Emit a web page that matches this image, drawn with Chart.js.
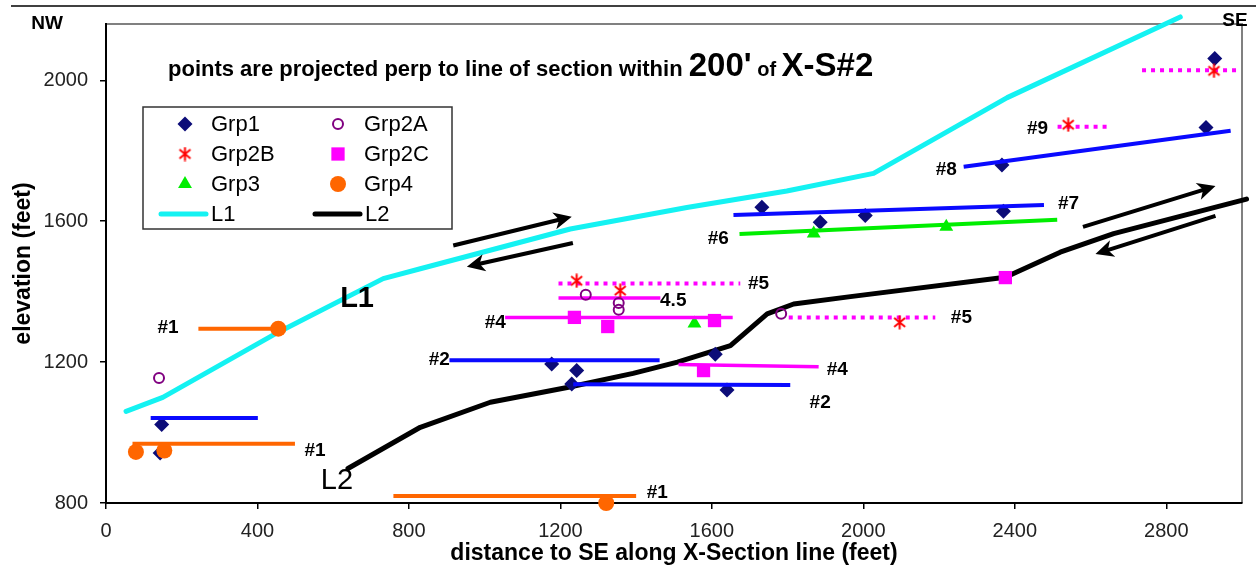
<!DOCTYPE html>
<html>
<head>
<meta charset="utf-8">
<script src="https://cdn.jsdelivr.net/npm/chart.js@4/dist/chart.umd.min.js"></script>
<style>
  html, body { margin: 0; padding: 0; background: #fff; }
  #wrap { width: 1256px; height: 571px; position: relative; }
</style>
</head>
<body>
<div id="wrap"><canvas id="grafico" width="1256" height="571"></canvas></div>
<script>
'use strict';

// ---- datos ----
var xTicks = [0, 400, 800, 1200, 1600, 2000, 2400, 2800];
var yTicks = [800, 1200, 1600, 2000];

var grp1X = [147, 143, 1732, 1886, 2005, 2370, 2366, 2905, 2928, 1177, 1243, 1230, 1609, 1640];
var grp1Y = [1023, 942, 1640, 1597, 1616, 1628, 1760, 1866, 2062, 1195, 1176, 1138, 1222, 1121];

var grp2aX = [140, 1267, 1354, 1354, 1783];
var grp2aY = [1155, 1391, 1368, 1349, 1337];

var grp2bX = [1243, 1358, 2096, 2541, 2926];
var grp2bY = [1431, 1403, 1313, 1874, 2027];

var grp2cX = [1237, 1325, 1607, 1578, 2375];
var grp2cY = [1327, 1301, 1318, 1176, 1440];

var grp3X = [1554, 1869, 2219];
var grp3Y = [1310, 1565, 1584];

var grp4X = [455, 79, 154, 1321];
var grp4Y = [1295, 945, 949, 800];

var l1X = [53, 150, 455, 732, 830, 1226, 1534, 1798, 2027, 2380, 2837];
var l1Y = [1060, 1100, 1285, 1437, 1465, 1578, 1639, 1686, 1736, 1951, 2180];

var l2X = [639, 830, 1015, 1218, 1392, 1509, 1649, 1746, 1816, 1966, 2375, 2520, 2661, 3012];
var l2Y = [898, 1015, 1086, 1128, 1168, 1200, 1247, 1337, 1365, 1386, 1441, 1512, 1565, 1663];

// tramos horizontales [x1, y1, x2, y2]
var orangeSegs = [[244, 1295, 455, 1295], [70, 968, 499, 968], [759, 820, 1400, 820]];
var blueSegs = [[118, 1041, 401, 1041], [907, 1205, 1462, 1205], [1234, 1137, 1807, 1135],
                [1657, 1618, 2477, 1646], [2265, 1755, 2970, 1857]];
var greenSegs = [[1673, 1564, 2512, 1604]];
var magentaSegs = [[1054, 1327, 1655, 1327], [1195, 1382, 1464, 1382], [1512, 1193, 1882, 1187]];
var dottedSegs = [[1195, 1423, 1675, 1423], [1803, 1327, 2190, 1327], [2513, 1868, 2654, 1868],
                  [2736, 2029, 2987, 2029]];

// flechas (desde -> hasta, punta en "hasta")
var arrowFromX = [917, 1233, 2580, 2930];
var arrowFromY = [1531, 1538, 1584, 1615];
var arrowToX = [1230, 953, 2930, 2613];
var arrowToY = [1613, 1471, 1700, 1507];

// etiquetas dentro del grafico
var labelText = ['#1', '#1', '#1', '#2', '#2', '#4', '4.5', '#5', '#4', '#5', '#6', '#7', '#8', '#9'];
var labelX = [164, 552, 1456, 880, 1886, 1028, 1498, 1723, 1931, 2259, 1617, 2542, 2219, 2460];
var labelY = [1298, 947, 830, 1207, 1085, 1312, 1374, 1422, 1178, 1326, 1550, 1650, 1745, 1862];

var lineNames = ['L1', 'L2'];
var lineNameX = [663, 610];
var lineNameY = [1380, 863];

var FONT = '"Liberation Sans", Arial, sans-serif';

function puntos(xs, ys) {
    var out = [];
    for (var i = 0; i < xs.length; i++) { out.push({ x: xs[i], y: ys[i] }); }
    return out;
}

function asterisco(color) {
    var c = document.createElement('canvas');
    c.width = 15; c.height = 15;
    var g = c.getContext('2d');
    g.strokeStyle = color; g.lineWidth = 2;
    g.beginPath();
    g.moveTo(7.5, 0.5); g.lineTo(7.5, 14.5);
    g.moveTo(2, 3); g.lineTo(13, 12);
    g.moveTo(13, 3); g.lineTo(2, 12);
    g.stroke();
    return c;
}
var starImg = asterisco('#ff0000');

var marcadores = [
    { label: 'Grp1', xs: grp1X, ys: grp1Y, style: 'rectRot', r: 7.5, fill: '#0c0c78', border: '#0c0c78', bw: 0, order: 3 },
    { label: 'Grp2A', xs: grp2aX, ys: grp2aY, style: 'circle', r: 5, fill: 'rgba(0,0,0,0)', border: '#800080', bw: 2, order: 1 },
    { label: 'Grp2B', xs: grp2bX, ys: grp2bY, style: starImg, r: 7, fill: '#ff0000', border: '#ff0000', bw: 0, order: 1 },
    { label: 'Grp2C', xs: grp2cX, ys: grp2cY, style: 'rect', r: 9.4, fill: '#ff00ff', border: '#ff00ff', bw: 0, order: 1 },
    { label: 'Grp3', xs: grp3X, ys: grp3Y, style: 'triangle', r: 8, fill: '#00ee00', border: '#00ee00', bw: 0, order: 3 },
    { label: 'Grp4', xs: grp4X, ys: grp4Y, style: 'circle', r: 8, fill: '#ff6600', border: '#ff6600', bw: 0, order: 1 }
];

var datasets = [];
marcadores.forEach(function (m) {
    datasets.push({
        label: m.label, data: puntos(m.xs, m.ys), showLine: false,
        pointStyle: m.style, pointRadius: m.r, pointBackgroundColor: m.fill,
        pointBorderColor: m.border, pointBorderWidth: m.bw, order: m.order, clip: false
    });
});

function agregarTramos(segs, color, width, dash) {
    segs.forEach(function (s) {
        datasets.push({
            label: '_seg', data: [{ x: s[0], y: s[1] }, { x: s[2], y: s[3] }], showLine: true,
            borderColor: color, borderWidth: width, borderDash: dash || [], pointRadius: 0,
            borderCapStyle: 'butt', order: 2
        });
    });
}
agregarTramos(orangeSegs, '#ff6600', 4);
agregarTramos(blueSegs, '#0a0aff', 4);
agregarTramos(greenSegs, '#00ee00', 4);
agregarTramos(magentaSegs, '#ff00ff', 3.5);
agregarTramos(dottedSegs, '#ff00ff', 4, [4, 5]);

datasets.push({ label: 'L1', data: puntos(l1X, l1Y), showLine: true, borderColor: '#14f2f2', borderWidth: 5,
    pointRadius: 0, borderCapStyle: 'round', borderJoinStyle: 'round', order: 4, clip: false });
datasets.push({ label: 'L2', data: puntos(l2X, l2Y), showLine: true, borderColor: '#000000', borderWidth: 5,
    pointRadius: 0, borderCapStyle: 'round', borderJoinStyle: 'round', order: 4, clip: false });

// dibujo de marcador para la leyenda
function marcador(ctx, m, x, y) {
    ctx.save();
    ctx.fillStyle = m.fill; ctx.strokeStyle = m.border; ctx.lineWidth = m.bw;
    if (Chart.helpers && Chart.helpers.drawPoint) {
        Chart.helpers.drawPoint(ctx, { pointStyle: m.style, radius: m.r, rotation: 0, borderWidth: m.bw }, x, y);
    }
    ctx.restore();
}

var decoracion = {
    id: 'decoracion',
    beforeDraw: function (chart) {
        var ctx = chart.ctx, a = chart.chartArea;
        ctx.save();
        ctx.fillStyle = '#fff';
        ctx.fillRect(0, 0, chart.width, chart.height);
        ctx.strokeStyle = '#000'; ctx.lineWidth = 1.5;
        ctx.beginPath(); ctx.moveTo(11, 6); ctx.lineTo(chart.width, 6); ctx.stroke();
        ctx.strokeStyle = '#808080'; ctx.lineWidth = 2;
        ctx.beginPath();
        ctx.moveTo(a.left, a.top); ctx.lineTo(a.right, a.top); ctx.lineTo(a.right, a.bottom);
        ctx.stroke();
        ctx.restore();
    },
    afterDatasetsDraw: function (chart) {
        var ctx = chart.ctx, a = chart.chartArea;
        var sx = chart.scales.x, sy = chart.scales.y;
        ctx.save();

        // flechas
        ctx.strokeStyle = '#000'; ctx.fillStyle = '#000'; ctx.lineWidth = 4;
        for (var i = 0; i < arrowFromX.length; i++) {
            var x1 = sx.getPixelForValue(arrowFromX[i]), y1 = sy.getPixelForValue(arrowFromY[i]);
            var x2 = sx.getPixelForValue(arrowToX[i]), y2 = sy.getPixelForValue(arrowToY[i]);
            var ang = Math.atan2(y2 - y1, x2 - x1);
            var bx = x2 - Math.cos(ang) * 12, by = y2 - Math.sin(ang) * 12;
            ctx.beginPath(); ctx.moveTo(x1, y1); ctx.lineTo(bx, by); ctx.stroke();
            ctx.beginPath();
            ctx.moveTo(x2, y2);
            ctx.lineTo(x2 - Math.cos(ang - 0.45) * 20, y2 - Math.sin(ang - 0.45) * 20);
            ctx.lineTo(x2 - Math.cos(ang) * 13, y2 - Math.sin(ang) * 13);
            ctx.lineTo(x2 - Math.cos(ang + 0.45) * 20, y2 - Math.sin(ang + 0.45) * 20);
            ctx.closePath(); ctx.fill();
        }

        // etiquetas
        ctx.fillStyle = '#000'; ctx.textAlign = 'center'; ctx.textBaseline = 'middle';
        for (var j = 0; j < labelText.length; j++) {
            ctx.font = 'bold 19px ' + FONT;
            ctx.fillText(labelText[j], sx.getPixelForValue(labelX[j]), sy.getPixelForValue(labelY[j]));
        }
        for (var k = 0; k < lineNames.length; k++) {
            ctx.font = (k === 0 ? 'bold ' : '') + '29px ' + FONT;
            ctx.fillText(lineNames[k], sx.getPixelForValue(lineNameX[k]), sy.getPixelForValue(lineNameY[k]));
        }

        // NW / SE
        ctx.font = 'bold 19px ' + FONT;
        ctx.fillText('NW', a.left - 59, 24);
        ctx.fillText('SE', a.right - 7, 21);

        // titulo interno
        ctx.textAlign = 'left'; ctx.textBaseline = 'alphabetic';
        var partes = [['points are projected perp to line of section within ', 22],
                      ['200\'', 33], [' of ', 20], ['X-S#2', 33]];
        var tx = a.left + 62, base = 76;
        partes.forEach(function (p) {
            ctx.font = 'bold ' + p[1] + 'px ' + FONT;
            ctx.fillText(p[0], tx, base);
            tx += ctx.measureText(p[0]).width;
        });

        // leyenda
        var lx = a.left + 37, ly = a.top + 83, lw = 309, lh = 122;
        ctx.fillStyle = '#fff';
        ctx.fillRect(lx, ly, lw, lh);
        ctx.strokeStyle = '#333'; ctx.lineWidth = 1.5;
        ctx.strokeRect(lx, ly, lw, lh);
        ctx.font = '22px ' + FONT; ctx.textBaseline = 'middle';
        for (var n = 0; n < marcadores.length; n++) {
            var col = n % 2, fila = Math.floor(n / 2);
            var cx = lx + 42 + col * 153, cy = ly + 17 + fila * 30;
            marcador(ctx, marcadores[n], cx, cy);
            ctx.fillStyle = '#000';
            ctx.fillText(marcadores[n].label, cx + 26, cy + 1);
        }
        var lineCols = ['#14f2f2', '#000'];
        for (var q = 0; q < 2; q++) {
            var x0 = lx + 18 + q * 154, yy = ly + 107;
            ctx.strokeStyle = lineCols[q]; ctx.lineWidth = 5; ctx.lineCap = 'round';
            ctx.beginPath(); ctx.moveTo(x0, yy); ctx.lineTo(x0 + 45, yy); ctx.stroke();
            ctx.fillStyle = '#000';
            ctx.fillText(lineNames[q], x0 + 50, yy + 1);
        }
        ctx.restore();
    }
};

function sinComa(v) { return String(v); }

new Chart(document.getElementById('grafico').getContext('2d'), {
    type: 'scatter',
    data: { datasets: datasets },
    plugins: [decoracion],
    options: {
        responsive: false,
        animation: false,
        layout: { padding: { top: 23, right: 14, left: 0, bottom: 0 } },
        plugins: { legend: { display: false }, tooltip: { enabled: false } },
        scales: {
            x: {
                type: 'linear', min: 0, max: 3000,
                afterBuildTicks: function (s) { s.ticks = xTicks.map(function (v) { return { value: v }; }); },
                afterFit: function (s) { s.height = 68; },
                grid: { display: true, drawOnChartArea: false, drawTicks: true, tickLength: 6, color: '#000', lineWidth: 1.5 },
                border: { display: true, color: '#000', width: 2 },
                ticks: { color: '#222', padding: 10, maxRotation: 0, callback: sinComa, font: { family: FONT, size: 20 } },
                title: { display: true, text: 'distance to SE along X-Section line (feet)', color: '#000',
                         font: { family: FONT, size: 23, weight: 'bold' }, padding: { top: 0, bottom: 4 } }
            },
            y: {
                type: 'linear', min: 800, max: 2160,
                afterBuildTicks: function (s) { s.ticks = yTicks.map(function (v) { return { value: v }; }); },
                afterFit: function (s) { s.width = 106; },
                grid: { display: true, drawOnChartArea: false, drawTicks: true, tickLength: 6, color: '#000', lineWidth: 1.5 },
                border: { display: true, color: '#000', width: 2 },
                ticks: { color: '#222', padding: 12, callback: sinComa, font: { family: FONT, size: 20 } },
                title: { display: true, text: 'elevation (feet)', color: '#000',
                         font: { family: FONT, size: 23, weight: 'bold' }, padding: { top: 10, bottom: 0 } }
            }
        }
    }
});
</script>
</body>
</html>
